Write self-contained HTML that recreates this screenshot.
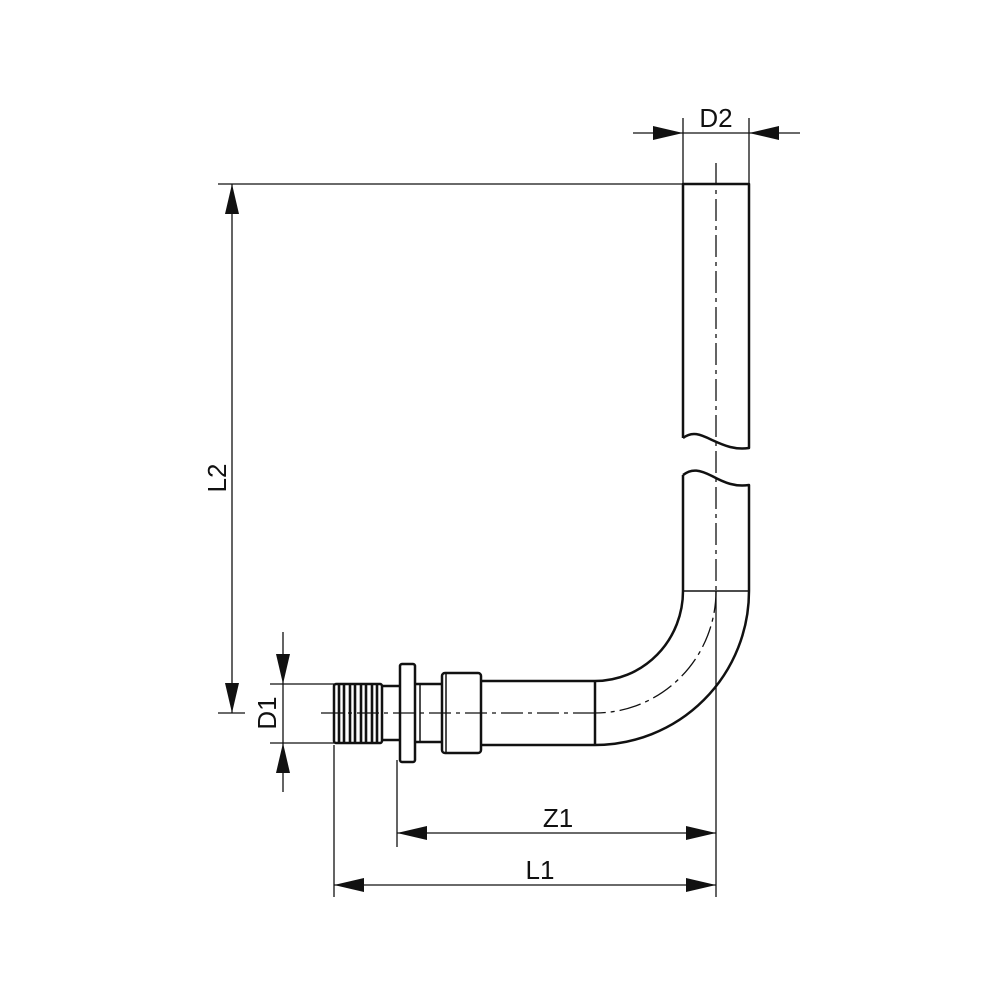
<!DOCTYPE html>
<html><head><meta charset="utf-8"><style>html,body{margin:0;padding:0;background:#fff}</style></head>
<body>
<svg width="1000" height="1000" viewBox="0 0 1000 1000" xmlns="http://www.w3.org/2000/svg" font-family="Liberation Sans, Arial, sans-serif">
<rect width="1000" height="1000" fill="#fff"/>
<g fill="none" stroke="#111" stroke-width="2.5" stroke-linejoin="round">
  <path d="M683,438 L683,184 L749,184 L749,448 C735,450 725,446 712,440 C700,434 692,431 683,438"/>
  <path d="M683,475 C692,468 700,470 712,476 C725,483 735,487 749,485 L749,591 A154,154 0 0 1 595,745 L481,745"/>
  <path d="M683,475 L683,591 A88,90 0 0 1 595,681 L481,681"/>
  <line x1="595" y1="681" x2="595" y2="745"/>
  <line x1="683" y1="591" x2="749" y2="591" stroke-width="1.5"/>
  <rect x="442" y="673" width="39" height="80" rx="3"/>
  <line x1="446" y1="673" x2="446" y2="753" stroke-width="1.5"/>
  <path d="M415,684 L442,684 M415,742 L442,742"/>
  <line x1="420" y1="684" x2="420" y2="742" stroke-width="1.5"/>
  <rect x="400" y="664" width="15" height="98" rx="2"/>
  <path d="M382,686 L400,686 M382,740 L400,740"/>
  <rect x="334" y="684" width="48" height="59" rx="2"/>
</g>
<g stroke="#111" stroke-width="2.6">
  <line x1="339" y1="684" x2="339" y2="743"/>
  <line x1="344" y1="684" x2="344" y2="743"/>
  <line x1="350" y1="684" x2="350" y2="743"/>
  <line x1="355" y1="684" x2="355" y2="743"/>
  <line x1="361" y1="684" x2="361" y2="743"/>
  <line x1="366" y1="684" x2="366" y2="743"/>
  <line x1="372" y1="684" x2="372" y2="743"/>
  <line x1="377" y1="684" x2="377" y2="743"/>
</g>
<g fill="none" stroke="#111" stroke-width="1.3" stroke-dasharray="22,5,4,5">
  <line x1="716" y1="163" x2="716" y2="591"/>
  <path d="M716,591 A121,122 0 0 1 595,713"/>
  <line x1="595" y1="713" x2="320" y2="713"/>
</g>
<g stroke="#111" stroke-width="1.3" fill="none">
  <line x1="218" y1="184" x2="683" y2="184"/>
  <line x1="218" y1="713" x2="245" y2="713"/>
  <line x1="232" y1="184" x2="232" y2="713"/>
  <line x1="270" y1="684" x2="334" y2="684"/>
  <line x1="270" y1="743" x2="334" y2="743"/>
  <line x1="283" y1="632" x2="283" y2="792"/>
  <line x1="683" y1="118" x2="683" y2="184"/>
  <line x1="749" y1="118" x2="749" y2="184"/>
  <line x1="633" y1="133" x2="800" y2="133"/>
  <line x1="334" y1="745" x2="334" y2="897"/>
  <line x1="397" y1="760" x2="397" y2="847"/>
  <line x1="716" y1="591" x2="716" y2="897"/>
  <line x1="397" y1="833" x2="716" y2="833"/>
  <line x1="334" y1="885" x2="716" y2="885"/>
</g>
<g fill="#111">
  <polygon points="232,184 225,214 239,214"/>
  <polygon points="232,713 225,683 239,683"/>
  <polygon points="283,684 276,654 290,654"/>
  <polygon points="283,743 276,773 290,773"/>
  <polygon points="683,133 653,126 653,140"/>
  <polygon points="749,133 779,126 779,140"/>
  <polygon points="397,833 427,826 427,840"/>
  <polygon points="716,833 686,826 686,840"/>
  <polygon points="334,885 364,878 364,892"/>
  <polygon points="716,885 686,878 686,892"/>
</g>
<g fill="#111" font-size="26" text-anchor="middle">
  <text x="716" y="127">D2</text>
  <text x="558" y="827">Z1</text>
  <text x="540" y="879">L1</text>
  <text transform="translate(226,478) rotate(-90)">L2</text>
  <text transform="translate(276,713) rotate(-90)">D1</text>
</g>
</svg>
</body></html>
